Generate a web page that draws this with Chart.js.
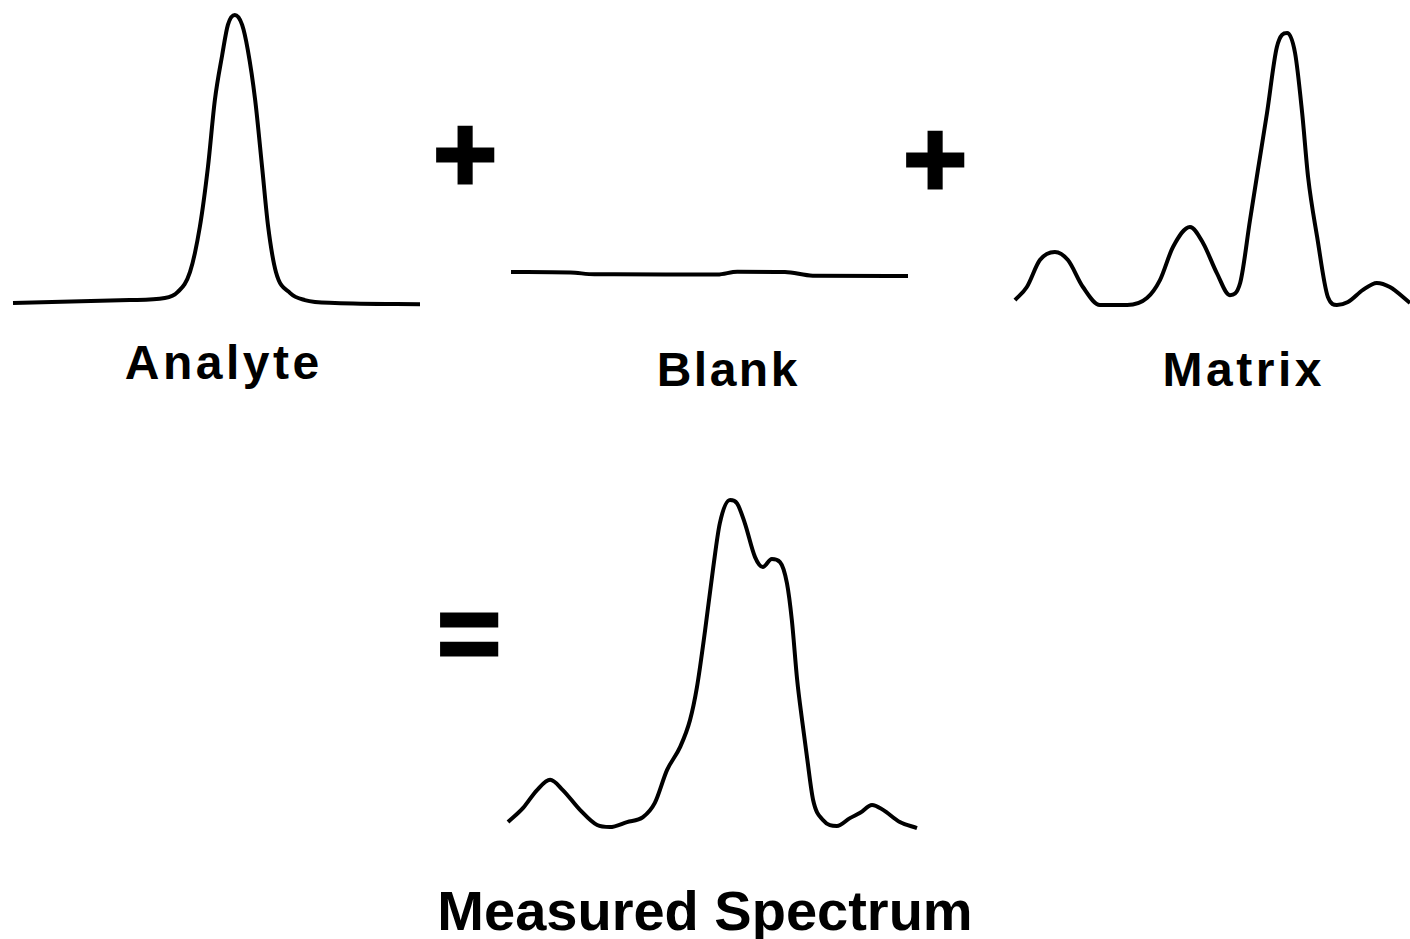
<!DOCTYPE html>
<html>
<head>
<meta charset="utf-8">
<script src="https://cdn.jsdelivr.net/npm/chart.js@4/dist/chart.umd.min.js"></script>
<style>
  html, body { margin: 0; padding: 0; background: #fff; width: 1410px; height: 939px; overflow: hidden; position: relative; }
  .box { position: absolute; }
  .lbl { position: absolute; width: 600px; text-align: center; font-family: "Liberation Sans", Arial, sans-serif; font-weight: bold; color: #000; line-height: 1; white-space: nowrap; }
  .sym { position: absolute; width: 200px; height: 200px; display: flex; align-items: center; justify-content: center; font-family: "Liberation Sans", Arial, sans-serif; font-weight: bold; color: #000; line-height: 1; -webkit-text-stroke: 3px #000; }
</style>
</head>
<body>
<script>
// ---- Data (x: channel 0-100, y: relative intensity 0-100) ----
const spectrumNames = ["Analyte", "Blank", "Matrix", "Measured Spectrum"];
const operators = ["+", "+", "="];

const analyteX = [0, 28.7, 37.3, 40.5, 43.5, 45.9, 47.9, 49.6, 51.4, 52.8, 54.5, 56.3, 57.7, 59.5, 61.2, 62.7, 64.6, 68.1, 71.7, 79.1, 100];
const analyteY = [0.7, 1.7, 2.4, 4.5, 11.4, 26.9, 47.6, 70.7, 86.2, 96.6, 100, 96.6, 87.9, 70.7, 47.6, 26.9, 11.4, 4.1, 1.7, 0.7, 0.3];

const blankX = [0, 15, 21, 26, 52, 57, 69, 76, 100];
const blankY = [11.4, 11.2, 10.6, 10.6, 10.5, 11.5, 11.4, 10.1, 10.0];

const matrixX = [0, 3.0, 6.3, 10.1, 13.4, 17.2, 21.5, 28.4, 33.4, 36.7, 40.0, 44.3, 47.6, 51.1, 54.4, 57.0, 59.5, 61.5, 63.8, 66.3, 68.9, 70.9, 72.7, 74.2, 76.5, 79.2, 81.5, 84.3, 88.1, 91.6, 94.9, 100];
const matrixY = [1.7, 6.2, 15.5, 18.3, 15.5, 6.2, 0, 0, 2.4, 8.6, 20.0, 26.9, 21.4, 11.0, 3.4, 7.6, 29.3, 46.6, 66.2, 89.0, 93.8, 86.9, 66.2, 44.1, 23.4, 2.8, 0, 1.0, 5.2, 7.6, 6.2, 0.7];

const measuredX = [0, 3.7, 7.1, 10.3, 13.4, 17.6, 21.8, 24.9, 29.1, 33.0, 35.9, 38.9, 42.1, 44.5, 46.2, 48.2, 50.1, 51.8, 54.3, 56.0, 57.9, 60.4, 62.3, 64.5, 66.5, 68.2, 69.4, 70.7, 71.9, 73.1, 74.6, 77.0, 80.4, 83.6, 86.1, 89.0, 91.7, 95.8, 100];
const measuredY = [2.4, 6.7, 12.1, 15.2, 12.1, 6.1, 1.5, 0.9, 2.4, 3.9, 8.2, 18.2, 25.2, 33.3, 43.3, 60.6, 78.8, 93.0, 100, 99.0, 93.0, 82.7, 79.7, 82.1, 81.2, 74.8, 63.6, 45.5, 33.3, 22.1, 9.1, 3.0, 1.2, 3.6, 5.2, 7.6, 6.1, 2.4, 0.6];

// ---- Layout ----
const PAD = 6;
function makeChart(area, xs, ys) {
  const div = document.createElement('div');
  div.className = 'box';
  div.style.left = (area.l - PAD) + 'px';
  div.style.top = (area.t - PAD) + 'px';
  const cv = document.createElement('canvas');
  const w = area.r - area.l + 2 * PAD, h = area.b - area.t + 2 * PAD;
  cv.width = w; cv.height = h;
  cv.style.width = w + 'px'; cv.style.height = h + 'px';
  div.appendChild(cv);
  document.body.appendChild(div);
  new Chart(cv, {
    type: 'line',
    data: {
      datasets: [{
        data: xs.map((x, i) => ({ x: x, y: ys[i] })),
        borderColor: '#000',
        borderWidth: 4,
        pointRadius: 0,
        fill: false,
        cubicInterpolationMode: 'monotone',
        clip: false
      }]
    },
    options: {
      responsive: false,
      animation: false,
      events: [],
      devicePixelRatio: 1,
      layout: { padding: PAD },
      plugins: { legend: { display: false }, tooltip: { enabled: false }, title: { display: false } },
      scales: {
        x: { type: 'linear', min: 0, max: 100, display: false },
        y: { type: 'linear', min: 0, max: 100, display: false }
      }
    }
  });
}

makeChart({ l: 13, r: 420, t: 15, b: 305 }, analyteX, analyteY);
makeChart({ l: 511, r: 908, t: 15, b: 305 }, blankX, blankY);
makeChart({ l: 1015, r: 1410, t: 15, b: 305 }, matrixX, matrixY);
makeChart({ l: 508, r: 917, t: 500, b: 830 }, measuredX, measuredY);

function addLabel(text, cx, baseline, size, spacing) {
  const d = document.createElement('div');
  d.className = 'lbl';
  d.textContent = text;
  d.style.fontSize = size + 'px';
  d.style.letterSpacing = spacing + 'px';
  d.style.left = (cx - 300 + spacing / 2) + 'px';
  d.style.top = (baseline - 0.8465 * size) + 'px';
  document.body.appendChild(d);
}
addLabel(spectrumNames[0], 222, 380, 48, 3.5);
addLabel(spectrumNames[1], 727, 387, 48, 2.5);
addLabel(spectrumNames[2], 1242, 387, 48, 3.5);
addLabel(spectrumNames[3], 705, 930, 56, 0);

function addSym(text, cx, cy, size) {
  const d = document.createElement('div');
  d.className = 'sym';
  d.textContent = text;
  d.style.fontSize = size + 'px';
  d.style.left = (cx - 100) + 'px';
  d.style.top = (cy - 100) + 'px';
  document.body.appendChild(d);
}
addSym(operators[0], 465, 153.5, 110);
addSym(operators[1], 935, 158.5, 110);
addSym(operators[2], 469, 633, 110);
</script>
</body>
</html>
